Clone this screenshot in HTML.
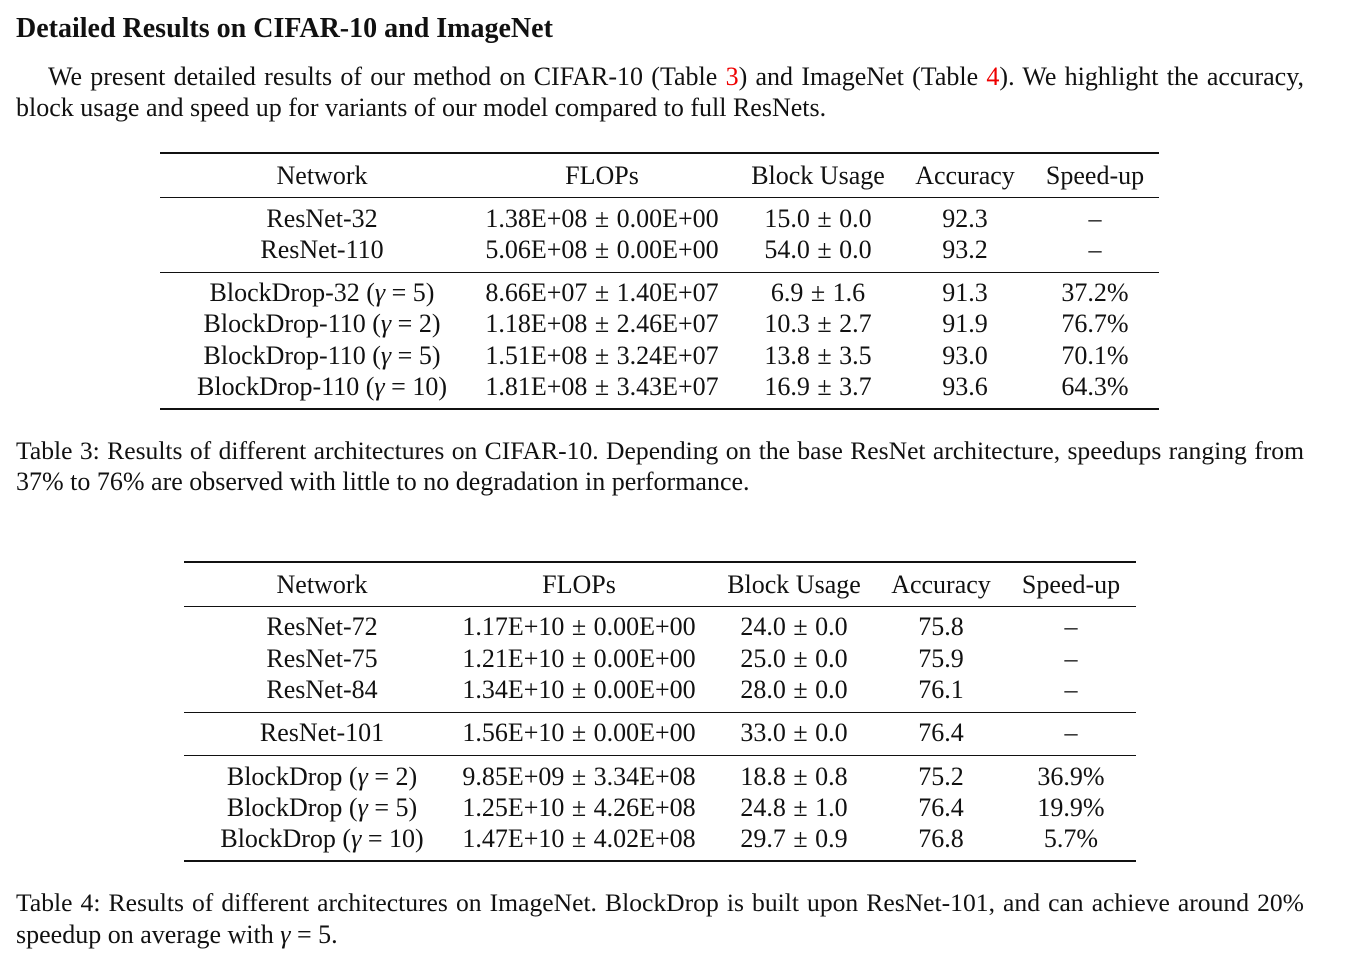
<!DOCTYPE html>
<html><head><meta charset="utf-8"><style>
body{margin:0;width:1354px;height:979px;background:#fff;position:relative;overflow:hidden;font-family:"Liberation Serif","DejaVu Serif",serif;color:#111;}
.t{position:absolute;font-size:26px;line-height:30px;white-space:nowrap;transform:translateX(-50%);}
.l{position:absolute;font-size:26px;line-height:30px;white-space:nowrap;}
.j{position:absolute;font-size:26px;line-height:30px;text-align:justify;text-align-last:justify;white-space:nowrap;}
.rule{position:absolute;background:#111;}
.red{color:#e00;}
i{font-style:italic;}
</style></head><body>
<div class="l" style="left:16px;top:14px;font-size:28px;font-weight:bold;">Detailed Results on CIFAR-10 and ImageNet</div>
<div class="j" style="left:48px;top:62px;width:1256px;">We present detailed results of our method on CIFAR-10 (Table <span class="red">3</span>) and ImageNet (Table <span class="red">4</span>). We highlight the accuracy,</div>
<div class="l" style="left:16px;top:93px;">block usage and speed up for variants of our model compared to full ResNets.</div>

<div>
<div class="rule" style="left:160px;top:152px;width:999px;height:2px"></div>
<div class="rule" style="left:160px;top:197px;width:999px;height:1px"></div>
<div class="rule" style="left:160px;top:272px;width:999px;height:1px"></div>
<div class="rule" style="left:160px;top:408px;width:999px;height:2px"></div>
</div>
<div id="t3"></div>
<div class="j" style="left:16px;top:436px;width:1288px;font-size:25.6px;">Table 3: Results of different architectures on CIFAR-10. Depending on the base ResNet architecture, speedups ranging from</div>
<div class="l" style="left:16px;top:467px;">37% to 76% are observed with little to no degradation in performance.</div>

<div>
<div class="rule" style="left:184px;top:561px;width:952px;height:2px"></div>
<div class="rule" style="left:184px;top:606px;width:952px;height:1px"></div>
<div class="rule" style="left:184px;top:712px;width:952px;height:1px"></div>
<div class="rule" style="left:184px;top:755px;width:952px;height:1px"></div>
<div class="rule" style="left:184px;top:860px;width:952px;height:2px"></div>
</div>
<div id="t4"></div>
<div class="j" style="left:16px;top:888px;width:1288px;font-size:25.6px;">Table 4: Results of different architectures on ImageNet. BlockDrop is built upon ResNet-101, and can achieve around 20%</div>
<div class="l" style="left:16px;top:920px;">speedup on average with <i>γ</i> = 5.</div>

<script>
const g=n=>`(<i>γ</i> = ${n})`;
const t3cols=[322,602,818,965,1095];
const t3rows=[
 [176,['Network','FLOPs','Block Usage','Accuracy','Speed-up']],
 [219,['ResNet-32','1.38E+08 ± 0.00E+00','15.0 ± 0.0','92.3','–']],
 [250,['ResNet-110','5.06E+08 ± 0.00E+00','54.0 ± 0.0','93.2','–']],
 [293,['BlockDrop-32 '+g(5),'8.66E+07 ± 1.40E+07','6.9 ± 1.6','91.3','37.2%']],
 [324,['BlockDrop-110 '+g(2),'1.18E+08 ± 2.46E+07','10.3 ± 2.7','91.9','76.7%']],
 [356,['BlockDrop-110 '+g(5),'1.51E+08 ± 3.24E+07','13.8 ± 3.5','93.0','70.1%']],
 [387,['BlockDrop-110 '+g(10),'1.81E+08 ± 3.43E+07','16.9 ± 3.7','93.6','64.3%']]
];
const t4cols=[322,579,794,941,1071];
const t4rows=[
 [585,['Network','FLOPs','Block Usage','Accuracy','Speed-up']],
 [627,['ResNet-72','1.17E+10 ± 0.00E+00','24.0 ± 0.0','75.8','–']],
 [659,['ResNet-75','1.21E+10 ± 0.00E+00','25.0 ± 0.0','75.9','–']],
 [690,['ResNet-84','1.34E+10 ± 0.00E+00','28.0 ± 0.0','76.1','–']],
 [733,['ResNet-101','1.56E+10 ± 0.00E+00','33.0 ± 0.0','76.4','–']],
 [777,['BlockDrop '+g(2),'9.85E+09 ± 3.34E+08','18.8 ± 0.8','75.2','36.9%']],
 [808,['BlockDrop '+g(5),'1.25E+10 ± 4.26E+08','24.8 ± 1.0','76.4','19.9%']],
 [839,['BlockDrop '+g(10),'1.47E+10 ± 4.02E+08','29.7 ± 0.9','76.8','5.7%']]
];
function build(id,cols,rows,prefix){
 const host=document.getElementById(id);
 rows.forEach((r,ri)=>{
  r[1].forEach((txt,ci)=>{
   const d=document.createElement('div');
   d.className='t';
   d.style.left=cols[ci]+'px';
   d.style.top=(r[0]-15)+'px';
   d.innerHTML=txt.replace(/ ± /g,' <span style="margin:0 1px">±</span> ');
   
   
   host.appendChild(d);
  });
 });
}
build('t3',t3cols,t3rows,'table-3');
build('t4',t4cols,t4rows,'table-4');
</script>
</body></html>
